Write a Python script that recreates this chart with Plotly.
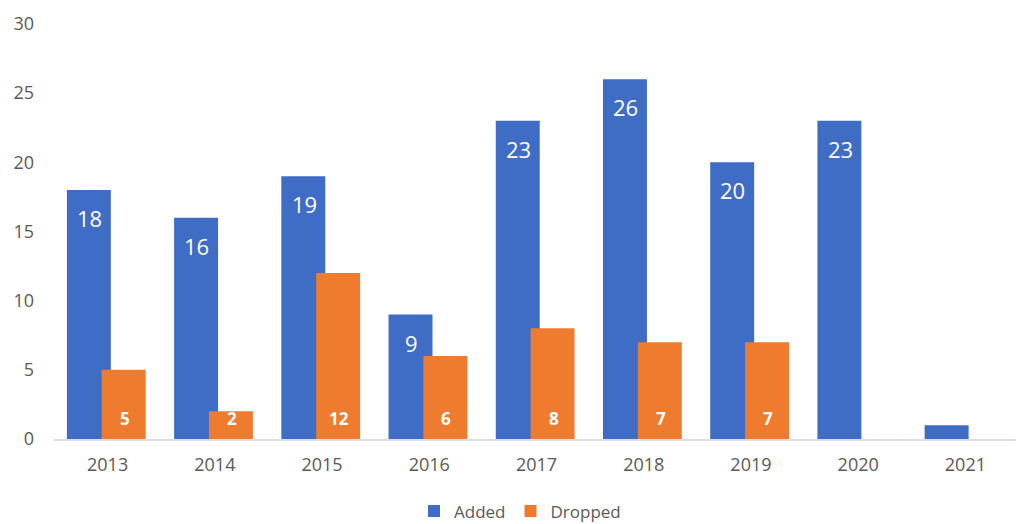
import plotly.graph_objects as go

years = ["2013", "2014", "2015", "2016", "2017", "2018", "2019", "2020", "2021"]
added = [18, 16, 19, 9, 23, 26, 20, 23, 1]
dropped = [5, 2, 12, 6, 8, 7, 7, 0, 0]
added_labels = ["18", "16", "19", "9", "23", "26", "20", "23", ""]
dropped_labels = ["5", "2", "12", "6", "8", "7", "7", "", ""]

fig = go.Figure()
fig.add_trace(go.Bar(
    x=years, y=added, name="Added",
    offset=-0.38, width=0.41,
    marker=dict(color="#3F6DC6", line=dict(width=0)),
    hoverinfo="x+y",
))
fig.add_trace(go.Bar(
    x=years, y=dropped, name="Dropped",
    offset=-0.055, width=0.41,
    marker=dict(color="#EE7B2E", line=dict(width=0)),
    hoverinfo="x+y",
))

# category index positions (numeric index on a category axis)
for i, (v, lab) in enumerate(zip(added, added_labels)):
    if lab:
        fig.add_annotation(x=i, y=v, text=lab, showarrow=False, xshift=-18, yshift=-28,
                           font=dict(color="white", size=22, family="Open Sans"))
for i, (v, lab) in enumerate(zip(dropped, dropped_labels)):
    if lab:
        fig.add_annotation(x=i, y=0, text="<b>" + lab + "</b>", showarrow=False, xshift=17, yshift=21,
                           font=dict(color="white", size=17, family="Open Sans"))

fig.update_layout(
    width=1024, height=524,
    barmode="overlay",
    paper_bgcolor="white", plot_bgcolor="white",
    margin=dict(l=46, r=13, t=16, b=93),
    font=dict(family="Open Sans", color="#595959", size=18),
    showlegend=True,
    legend=dict(orientation="h", x=0.5, xanchor="center", xref="container",
                y=0.005, yanchor="bottom", yref="container",
                font=dict(size=17, color="#595959"), traceorder="normal"),
)
fig.update_xaxes(type="category", range=[-0.5, 8.5], automargin=False, showgrid=False, showline=True,
                 linecolor="#D9DEE5", linewidth=2,
                 ticks="", tickfont=dict(size=18, color="#595959"), ticklabelstandoff=8)
fig.update_yaxes(range=[0, 30], dtick=5, automargin=False, showgrid=False, zeroline=False, showline=False,
                 tickfont=dict(size=18, color="#595959"), ticklabelstandoff=19)

fig.write_html("out.html")
